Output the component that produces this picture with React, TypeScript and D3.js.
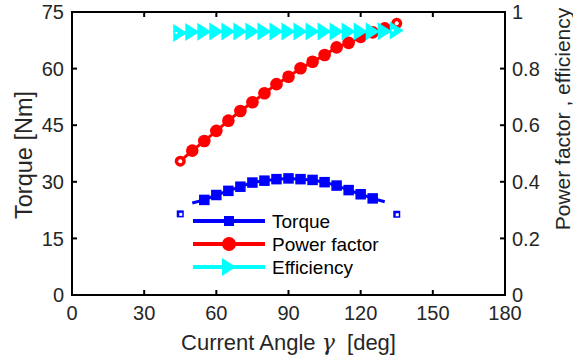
import React from 'react';
import * as d3 from 'd3';

// current angle [deg]
const angles = [45, 50, 55, 60, 65, 70, 75, 80, 85, 90, 95, 100, 105, 110, 115, 120, 125, 130, 135];
const torque = [21.5, 24.4, 25.2, 26.5, 27.6, 28.7, 29.8, 30.3, 30.7, 30.9, 30.7, 30.5, 29.9, 29.0, 27.8, 26.7, 25.6, 24.7, 21.4];
const powerFactor = [0.473, 0.51, 0.544, 0.58, 0.616, 0.65, 0.681, 0.713, 0.745, 0.771, 0.801, 0.824, 0.848, 0.875, 0.891, 0.912, 0.928, 0.942, 0.96];
const efficiency = [0.926, 0.929, 0.93, 0.931, 0.931, 0.931, 0.931, 0.931, 0.931, 0.931, 0.931, 0.931, 0.931, 0.931, 0.931, 0.931, 0.931, 0.932, 0.935];

const xTicks = [0, 30, 60, 90, 120, 150, 180];
const yLeftTicks = [0, 15, 30, 45, 60, 75];
const yRightTicks = [0, 0.2, 0.4, 0.6, 0.8, 1];
const legendItems = ['Torque', 'Power factor', 'Efficiency'];

const W = 573;
const H = 362;
const margin = { top: 12, right: 68, bottom: 67, left: 72 };
const FONT = "'Liberation Sans', Arial, Helvetica, sans-serif";

const BLUE = '#0000ff';
const RED = '#ff0000';
const CYAN = '#00ffff';
const INK = '#262626';

function Square({ x, y, s, color, hollow }: any) {
    return (
        <g>
            <rect x={x - s / 2} y={y - s / 2} width={s} height={s} fill={color} />
            {hollow && <rect x={x - 1} y={y - 1} width={3} height={3} fill="#fff" />}
        </g>
    );
}

function Circle({ x, y, r, color, hollow }: any) {
    return (
        <g>
            <circle cx={x} cy={y} r={r} fill={color} />
            {hollow && <circle cx={x} cy={y} r={2} fill="#fff" />}
        </g>
    );
}

function Triangle({ x, y, color, hollow }: any) {
    const w = 14, h = 18;
    return (
        <g>
            <path d={`M${x - w / 2},${y - h / 2}L${x + w / 2},${y}L${x - w / 2},${y + h / 2}Z`} fill={color} />
            {hollow && <rect x={x - 5} y={y - 1} width={2} height={2} fill="#fff" />}
        </g>
    );
}

export default function App() {
    const innerW = W - margin.left - margin.right;
    const innerH = H - margin.top - margin.bottom;

    const x = d3.scaleLinear().domain([0, 180]).range([margin.left, margin.left + innerW]);
    const yL = d3.scaleLinear().domain([0, 75]).range([margin.top + innerH, margin.top]);
    const yR = d3.scaleLinear().domain([0, 1]).range([margin.top + innerH, margin.top]);

    const last = angles.length - 1;
    const isEnd = (i: number) => i === 0 || i === last;

    const torqueLine = d3.line<number>()
        .x((d, i) => x(angles[i + 1]))
        .y(d => yL(d));
    const pfLine = d3.line<number>()
        .x((d, i) => x(angles[i]))
        .y(d => yR(d));
    const effLine = d3.line<number>()
        .x((d, i) => x(angles[i]))
        .y(d => yR(d));

    const x0 = margin.left, x1 = margin.left + innerW;
    const y0 = margin.top, y1 = margin.top + innerH;
    const tick = 5;

    const legendX0 = 193, legendX1 = 265;
    const legendY = [221, 244, 267];

    return (
        <div style={{ position: 'absolute', left: 0, top: 0 }}>
            <svg width={W} height={H} style={{ display: 'block', background: '#fff' }} fontFamily={FONT}>
                {/* efficiency */}
                <path d={effLine(efficiency) || ''} fill="none" stroke={CYAN} strokeWidth={3} />
                {/* power factor */}
                <path d={pfLine(powerFactor) || ''} fill="none" stroke={RED} strokeWidth={3} />
                {powerFactor.map((v, i) => (
                    <Circle key={'pf' + i} x={x(angles[i])} y={yR(v)} r={isEnd(i) ? 5.5 : 6.3} color={RED} hollow={isEnd(i)} />
                ))}
                {efficiency.map((v, i) => (
                    <Triangle key={'ef' + i} x={x(angles[i])} y={yR(v)} color={CYAN} hollow={isEnd(i)} />
                ))}
                {/* torque */}
                <path d={torqueLine(torque.slice(1, last)) || ''} fill="none" stroke={BLUE} strokeWidth={3} />
                {torque.map((v, i) => {
                    if (i === 1 || i === last - 1) return null;
                    return (
                        <Square key={'tq' + i} x={x(angles[i])} y={yL(v)} s={isEnd(i) ? 7 : 10.5} color={BLUE} hollow={isEnd(i)} />
                    );
                })}

                {/* legend */}
                {legendItems.map((name, i) => {
                    const ly = legendY[i];
                    const color = [BLUE, RED, CYAN][i];
                    const cx = (legendX0 + legendX1) / 2;
                    return (
                        <g key={name}>
                            <line x1={legendX0} x2={legendX1} y1={ly} y2={ly} stroke={color} strokeWidth={4} />
                            {i === 0 && <Square x={cx} y={ly} s={10} color={color} />}
                            {i === 1 && <Circle x={cx} y={ly} r={7} color={color} />}
                            {i === 2 && <Triangle x={cx} y={ly} color={color} />}
                            <text x={272} y={ly} dy="0.36em" fontSize={19} fill="#000">{name}</text>
                        </g>
                    );
                })}

                {/* axes box */}
                <rect x={x0} y={y0} width={innerW} height={innerH} fill="none" stroke="#000" strokeWidth={2} />
                {xTicks.map(t => (
                    <g key={'x' + t}>
                        <line x1={x(t)} x2={x(t)} y1={y1} y2={y1 - tick} stroke="#000" strokeWidth={2} />
                        <line x1={x(t)} x2={x(t)} y1={y0} y2={y0 + tick} stroke="#000" strokeWidth={2} />
                        <text x={x(t)} y={y1 + 18} dy="0.36em" textAnchor="middle" fontSize={20} fill={INK}>{t}</text>
                    </g>
                ))}
                {yLeftTicks.map(t => (
                    <g key={'yl' + t}>
                        <line x1={x0} x2={x0 + tick} y1={yL(t)} y2={yL(t)} stroke="#000" strokeWidth={2} />
                        <text x={x0 - 8} y={yL(t)} dy="0.36em" textAnchor="end" fontSize={20} fill={INK}>{t}</text>
                    </g>
                ))}
                {yRightTicks.map(t => (
                    <g key={'yr' + t}>
                        <line x1={x1} x2={x1 - tick} y1={yR(t)} y2={yR(t)} stroke="#000" strokeWidth={2} />
                        <text x={x1 + 7} y={yR(t)} dy="0.36em" textAnchor="start" fontSize={20} fill={INK}>{t}</text>
                    </g>
                ))}

                {/* axis labels */}
                <text x={(x0 + x1) / 2} y={342} dy="0.36em" textAnchor="middle" fontSize={22} fill={INK}>
                    Current Angle <tspan fontFamily="'DejaVu Serif', 'Liberation Serif', serif" fontStyle="italic">γ</tspan>{'\u00a0 [deg]'}
                </text>
                <text transform={`translate(24,155) rotate(-90)`} dy="0.36em" textAnchor="middle" fontSize={23.5} fill={INK}>
                    Torque [Nm]
                </text>
                <text transform={`translate(562,119) rotate(-90)`} dy="0.36em" textAnchor="middle" fontSize={21} fill={INK}>
                    Power factor , efficiency
                </text>
            </svg>
        </div>
    );
}
